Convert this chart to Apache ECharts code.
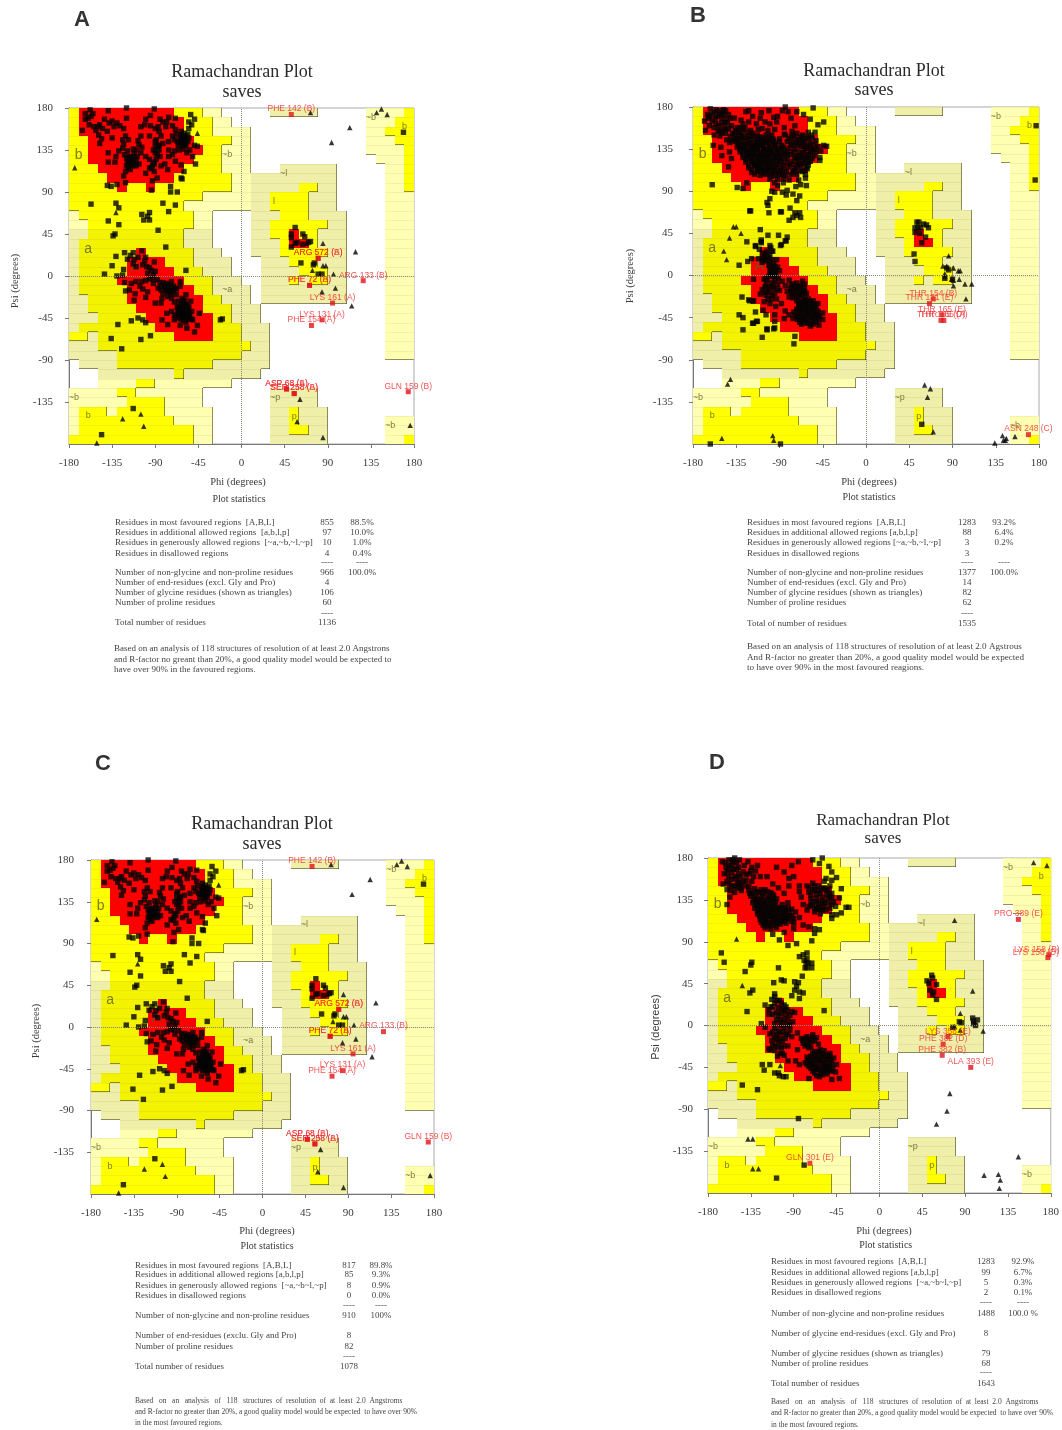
<!DOCTYPE html>
<html><head><meta charset="utf-8">
<style>html,body{margin:0;padding:0;background:#fff}#c{width:1062px;height:1430px;filter:blur(0.4px)}</style>
<script src="https://cdn.jsdelivr.net/npm/echarts@6/dist/echarts.min.js"></script>
</head><body><div id="c"></div>
<script>
// ---------- shared Ramachandran region map: one run-length row per 10 degrees of psi, top to bottom ----------
const regionRows = [
'Y1R10Y3L2W5T5W5L4Y1','Y1R11Y3L2W14L3Y2','Y1R11Y3L4W12L2Y3','Y2R11Y4L2W12L3Y2','Y2R12Y2L3W12L4Y1','Y2R11Y3L3W13L3Y1',
'Y3R9Y4L3W3T6W5L2Y1','Y4R7Y6L2T9W5L2Y1','Y5R1Y2R1Y8L2T5Y2T2W5L2Y1','Y14L5T2Y4T3W5L3','Y12L7T2Y4T3W5L3','L1Y12L2W4T3Y3T4W4L3',
'L2Y11L2W4T2Y6T2W4L3','T2D10T3W4T2Y2R1Y2T3W4L3','T1D11T3W4T3Y1R2Y1T3W4L3','T1D6R1D5T3W3T3Y5T2W4L3','T1D5R4D3T4W3T3Y3T3W4L3','T1D5R5D3T3W3T4Y3T2W4L3',
'T1D4R7D3T3W2T3Y1T1Y2T2W4L3','T1D5R7D2T4W1T9W4L3','T2D4R8D2T3W1T9W4L3','T2D5R7D3T3W13L3','T3D5R7D2T3W13L3','T1D8R6D3T3W12L3',
'Y2T1D8R4D3T3W12L3','T3D15Y1T2W12L3','T5D13T3W12L3','W1T4D10T6W15','W3T8D1T8W16','W3L4Y2L8W19',
'L5Y2L7W7T5W10','L6Y4L4W7T5W10','L1Y3L1Y5L5W6T2Y1T3W9','L1Y10L4W6T2Y1T3W6L3','L1Y12L2W6T2Y2T2W6L3','Y13L2W6T6W6L2Y1'
];
const regionFill = {R:'#ff0000',Y:'#ffff00',D:'#f3f300',L:'#ffffb2',T:'#efefaa'};
const regionRank = {W:0,L:1,T:1,Y:2,D:2,R:3};

const tagsLarge = [['b',-170,130],['a',-160,29],['A',-111,10]];
const tagsSmall = [['~b',-15,130],['~l',44,110],['l',34,80],['~a',-15,-15],['~b',-175,-130],['b',-160,-150],['~p',35,-130],['p',55,-151],['~b',155,-160],['~b',135,170],['b',170,160]];

// ---------- panel A residues ----------
const squaresA = [
[-158,178],[-163,174],[-160,169],[-163,168],[-157,171],[-139,177],[-120,180],[-91,179],[-95,172],[-85,168],[-120,169],[-143,168],[-138,164],[-133,160],[-127,161],[-123,158],[-159,162],[-154,160],[-166,156],[-152,156],[-140,155],[-149,151],[-146,147],[-148,142],[-135,148],[-121,150],[-124,146],[-105,150],[-96,150],[-101,162],[-95,161],[-87,160],[-82,165],[-79,160],[-72,161],[-69,169],[-69,157],[-62,150],[-58,146],[-63,146],[-67,144],[-60,141],[-63,151],[-55,158],[-52,162],[-53,173],[-49,140],[-46,139],[-54,135],[-57,132],[-51,128],[-48,120],[-60,112],[-63,105],[-62,104],[-76,144],[-89,146],[-90,139],[-86,135],[-88,130],[-89,125],[-96,125],[-76,135],[-70,134],[-65,135],[-60,136],[-107,141],[-110,135],[-105,132],[-109,128],[-114,126],[-123,141],[-124,137],[-119,134],[-128,134],[-131,128],[-139,132],[-139,122],[-132,122],[-119,123],[-117,119],[-114,118],[-116,114],[-121,112],[-123,107],[-107,120],[-96,116],[-93,118],[-91,112],[-100,110],[-93,102],[-94,92],[-88,105],[-84,118],[-77,114],[-69,123],[-63,119],[-76,128],[-130,98],[-121,100],[-140,97],[-136,96],[-74,96],[-74,90],[-67,90],[-82,78],[-69,76],[-76,69],[-157,77],[-131,78],[-128,73],[-139,59],[-128,55],[-104,66],[-96,68],[-98,64],[-102,60],[-96,60],
[-64,148],[-60,153],[-58,150],[-55,148],[-62,143],[-66,140],[-58,140],[-72,130],[-85,128],[-80,120],[-117,128],[-113,122],[-110,118],[-112,131],[-122,130],[-118,116],[-120,118],[-90,132],[-92,122],[-100,128],[-82,142],[-90,158],[-135,166],[-130,164],[-145,158],[-150,160],[-155,174],[-148,162],[-108,145],[-118,146],[-105,160],[-100,168],[-76,170],[-78,165],[-84,150],[-86,155],[-70,146],[-72,150],[-68,152],[-55,165],[-49,168],
[-61,147],[-59,143],[-63,155],[-56,152],[-112,128],[-115,122],[-117,125],[-94,115],[-91,120],[-113,136],[-104,138],[-88,135],[-87,140],[-90,144],
[-79,31],[-122,25],[-113,25],[-104,27],[-131,21],[-119,18],[-135,11],[-143,2],[-123,7],[-124,1],[-130,0],[-122,-7],[-121,-16],[-111,-19],[-112,-26],[-100,-23],[-90,-29],[-84,-29],[-83,-24],[-58,6],[-22,-47],[-20,-46],[-115,-48],[-108,-45],[-103,-47],[-100,-50],[-129,-52],[-136,-67],[-105,-68],[-95,-64],[-83,-47],[-78,-40],[-77,-52],[-64,-53],[-57,-56],[-46,-53],[-49,-60],[-44,-40],[-51,-47],[-125,-78],[-87,49],[-132,45],[-134,43],
[-101,16],[-103,12],[-99,10],[-94,6],[-98,3],[-92,1],[-96,-3],[-100,-5],[-104,-6],[-110,-6],[-106,-11],[-103,-14],[-98,-17],[-91,15],[-78,-8],[-75,-10],[-80,-13],[-77,-17],[-84,-15],[-73,-6],[-71,-15],[-68,-20],[-64,-6],[-64,-11],[-70,-28],[-73,-24],[-66,-33],[-63,-29],[-59,-26],[-58,-20],[-57,-31],[-61,-36],[-64,-40],[-59,-42],[-56,-36],[-54,-44],[-63,-47],[-68,-45],[-73,-38],[-70,-42],[-58,-47],[-64,-35],[-61,-45],[-52,-38],[-77,-22],[-82,-19],[-87,-13],[-92,-8],[-85,-7],[-113,13],[-110,10],[-115,-8],[-117,-15],
[-60,-30],[-62,-33],[-58,-34],[-55,-33],[-60,-39],[-57,-39],[-62,-42],[-55,-42],[-60,-44],[-66,-38],[-58,-50],[-70,-47],[-80,-10],[-76,-13],[-73,-12],[-72,-18],[-68,-14],[-74,-20],[-84,-11],[-82,-7],[-88,-4],[-93,-3],[-90,5],[-96,9],[-100,20],[-108,20],[-112,18],[-116,22],[-62,-24],[-66,-27],[-53,-27],[-67,-41],[-52,-46],
[-60,-36],[-63,-38],[-57,-45],[-59,-33],[-55,-39],[-65,-41],[-61,-27],[-58,-40],[-75,-16],[-79,-12],[-70,-13],[-63,-44],[-67,-34],
[-60,149],[-65,143],[-56,144],[-62,139],[-114,122],[-118,120],[-112,120],[-116,127],[-120,126],[-110,124],[-86,140],[-92,135],[-60,-41],[-63,-41],[-57,-42],[-59,-37],[-62,-36],[-56,-46],[-60,-47],[-65,-37],[-58,-31],[-77,-13],[-74,-15],[-71,-11],[-78,-15],
[52,45],[52,41],[56,35],[64,45],[66,42],[70,36],[72,37],[58,36],[52,31],[64,34],[56,52],[62,14],[75,12],[76,14],[80,2],[84,2],[-113,-142],[-146,-170],[169,154]
];
const trianglesA = [[-174,116],[-46,153],[-131,68],[72,175],[146,179],[141,175],[152,173],[113,159],[94,143],[85,35],[119,26],[68,35],[74,6],[98,-13],[84,-17],[115,-32],[96,2],[85,11],[88,11],[61,-132],[58,-156],[85,-173],[176,-160],[-124,-153],[-105,-148],[-102,-161],[-151,-179]];
const flaggedA = [[52,173,'PHE 142 (B)'],[80,19,'ARG 572 (A)'],[80,19,'ARG 572 (B)'],[71,-10,'PHE 72 (A)'],[71,-10,'PHE 72 (B)'],[127,-5,'ARG 133 (B)'],[95,-29,'LYS 161 (A)'],[84,-47,'LYS 131 (A)'],[73,-53,'PHE 154 (A)'],[47,-121,'ASP 68 (A)'],[47,-121,'ASP 68 (B)'],[55,-126,'SER 258 (A)'],[55,-126,'SER 258 (B)'],[174,-124,'GLN 159 (B)']];

// ---------- panel B residues ----------
const squaresB = [
[-160,97],[177,160],[176,102],[-134,94],[-128,93],[-120,69],[-89,68],[-110,49],[-102,43],[-91,43],[-82,41],[-84,37],[-124,36],[-115,31],[-109,38],[-109,35],[-89,32],[-99,30],[-97,26],[-132,11],[-123,15],[-129,-23],[-122,-26],[-118,-27],[-115,-39],[-132,-42],[-128,-45],[-114,-49],[-118,-51],[-128,-58],[-103,-58],[-96,-57],[-108,-66],[-74,-65],[-75,-73],[-162,-180],[-89,-180],[58,-159],
[53,57],[55,57],[60,55],[63,54],[65,51],[51,51],[54,51],[57,51],[51,46],[56,45],[62,41],[58,35],[50,23],[51,15],[84,8],[86,6],[82,-3],[90,-4],
[-124,99],[-121,69],[-88,68],[-98,90],[-100,82],[-103,78],[-102,75],[-101,67],[-87,89],[-83,86],[-82,91],[-76,87],[-73,95],[-68,97],[-62,96],[-63,104],[-70,102],[-69,85],[-72,80],[-79,72],[-74,67],[-76,62],[-80,59],[-69,67],[-68,62],[-72,64],[-95,89],[-92,96],[-86,99],[-95,99],
[-55,179],[-84,180],[-87,176],[-81,175],[-72,175],[-65,172],[-58,167],[-50,161],[-44,164],[-53,153],[-44,139],[-41,138],[-47,133],[-48,126],[-48,123],[-53,135],[-60,121],[-61,114],[-63,108],[-148,177],[-122,176],[-109,174],[-101,176],[-96,169],[-93,164],[-105,164],[-112,156],[-95,156],[-85,151],[-77,154],[-74,160],[-167,155],[-159,139],[-151,137],[-142,132],[-150,128],[-143,116],[-140,125],
[-168,165],[-165,172],[-162,178],[-158,175],[-155,170],[-160,165],[-163,160],[-156,162],[-152,176],[-150,168],[-147,163],[-143,172],[-148,157],[-154,155],[-158,150],[-152,149],[-146,152],[-140,160],[-137,168],[-134,158],[-130,166],[-141,148],[-136,150],[-130,152],[-126,158],[-122,164],[-118,170],[-114,162],[-120,155],[-113,150],[-108,157],[-102,155],[-125,175],[-110,168],[-100,162],[-92,170],[-85,158],[-78,168],
[-163,170],[-157,167],[-150,172],[-153,160],[-145,167],[-150,152],[-143,157],[-136,155],[-131,158],[-139,144],[-145,145],[-128,162],
[-136,143],[-131,146],[-125,147],[-119,149],[-113,145],[-107,147],[-101,149],[-134,137],[-128,139],[-122,141],[-116,139],[-110,141],[-104,142],[-98,143],[-131,132],[-125,133],[-119,135],[-113,134],[-107,136],[-101,135],[-95,137],[-128,126],[-122,128],[-116,129],[-110,127],[-104,130],[-98,129],[-92,131],[-125,121],[-119,123],[-113,122],[-107,124],[-101,123],[-95,125],[-89,124],[-122,115],[-116,117],[-110,116],[-104,118],[-98,117],[-92,119],[-86,118],[-119,110],[-113,111],[-107,109],[-101,112],[-95,110],[-89,112],[-83,111],[-90,143],[-86,137],[-84,130],
[-133,140],[-127,143],[-121,145],[-115,142],[-109,144],[-103,145],[-97,146],[-131,135],[-125,137],[-119,138],[-113,137],[-107,139],[-101,139],[-95,141],[-128,130],[-122,131],[-116,132],[-110,130],[-104,133],[-98,133],[-92,135],[-125,124],[-119,126],[-113,128],[-107,127],[-101,126],[-95,128],[-89,128],[-122,118],[-116,120],[-110,120],[-104,121],[-98,121],[-92,122],[-119,113],[-113,114],[-107,113],[-101,115],[-95,114],[-89,115],[-116,108],[-110,107],[-104,108],[-98,106],[-90,108],[-84,107],
[-134,146],[-128,148],[-122,149],[-116,147],[-110,148],[-104,150],[-98,150],[-132,142],[-126,140],[-120,142],[-114,140],[-108,142],[-102,143],[-96,144],[-90,146],[-130,137],[-124,135],[-118,137],[-112,139],[-106,134],[-100,137],[-94,139],[-88,136],[-127,133],[-121,130],[-115,136],[-109,132],[-103,128],[-97,131],[-91,133],[-85,134],[-124,128],[-118,132],[-112,125],[-106,129],[-100,131],[-94,126],[-88,131],[-82,129],[-121,125],[-115,126],[-109,123],[-103,125],[-97,123],[-91,126],[-85,125],[-118,121],[-112,119],[-106,119],[-100,119],[-94,117],[-88,121],[-82,120],[-115,118],[-109,114],[-103,113],[-97,112],[-91,111],[-85,113],[-112,112],[-106,111],[-100,108],[-94,107],[-87,108],
[-160,172],[-156,177],[-153,172],[-148,172],[-146,176],[-164,168],[-158,158],[-150,163],[-144,163],[-141,168],[-152,154],[-146,156],[-139,152],[-133,153],[-128,156],[-142,142],[-136,147],[-130,149],[-124,153],[-118,152],
[-84,150],[-78,148],[-72,152],[-66,150],[-60,153],[-56,147],[-82,143],[-76,142],[-70,145],[-64,143],[-58,141],[-52,144],[-80,136],[-74,135],[-68,138],[-62,136],[-56,134],[-50,138],[-78,129],[-72,128],[-66,131],[-60,129],[-54,128],[-76,122],[-70,123],[-64,124],[-58,122],[-80,116],[-74,115],[-68,117],[-62,116],[-78,108],[-72,108],[-66,111],[-86,104],[-80,102],[-92,103],[-100,103],
[-70,140],[-64,138],[-58,136],[-75,139],[-66,126],[-72,125],[-60,125],[-70,119],[-64,120],[-75,112],[-82,125],[-82,132],[-88,139],[-60,146],[-66,146],[-74,147],
[-80,146],[-76,150],[-68,148],[-62,148],[-57,150],[-78,140],[-72,142],[-66,142],[-60,139],[-54,140],[-76,132],[-70,132],[-64,133],[-58,131],[-52,132],[-74,126],[-68,127],[-62,127],[-56,125],[-78,119],[-72,118],[-66,120],[-60,118],[-76,110],[-70,112],[-64,112],
[-111,28],[-108,24],[-106,20],[-112,18],[-103,26],[-100,22],[-104,16],[-98,17],[-108,14],[-101,11],[-96,13],[-93,17],[-97,8],[-92,9],[-99,5],[-94,3],[-90,5],[-96,-1],[-101,-1],[-91,-3],[-106,-4],[-104,-10],[-98,-8],[-92,-9],[-87,-6],[-108,-15],[-102,-15],[-96,-14],[-110,-20],[-104,-21],[-98,-21],[-90,-16],[-93,-25],[-106,-28],[-100,-30],[-94,-33],[-88,-30],
[-103,20],[-108,18],[-100,14],[-95,10],[-98,0],[-103,-5],[-95,-5],[-100,-12],[-105,-18],[-98,-25],
[-105,23],[-101,19],[-106,16],[-100,8],[-95,5],[-94,-1],[-100,2],[-104,-3],[-97,-11],[-92,-14],[-101,-18],[-95,-19],[-102,-25],[-105,-12],
[-80,-5],[-84,-11],[-78,-11],[-72,-8],[-66,-6],[-82,-17],[-76,-16],[-70,-15],[-64,-13],[-80,-23],[-74,-22],[-68,-21],[-62,-19],[-72,-27],
[-78,-18],[-74,-13],[-68,-11],[-72,-18],[-66,-18],[-76,-24],
[-76,-9],[-70,-12],[-64,-9],[-78,-14],[-72,-12],[-66,-16],[-76,-20],[-70,-19],[-64,-17],[-70,-24],[-64,-23],
[-70,-30],[-65,-28],[-60,-25],[-55,-27],[-72,-36],[-66,-34],[-60,-32],[-54,-33],[-50,-30],[-74,-42],[-68,-41],[-62,-39],[-56,-40],[-50,-38],[-71,-47],[-65,-46],[-59,-45],[-53,-46],[-48,-44],[-67,-52],[-61,-51],[-55,-52],[-49,-53],[-45,-40],[-76,-46],[-80,-42],[-85,-46],[-84,-38],
[-68,-37],[-63,-36],[-57,-36],[-52,-35],[-70,-44],[-64,-43],[-59,-41],[-53,-42],[-68,-48],[-62,-48],[-56,-48],[-50,-47],[-63,-30],[-57,-30],[-68,-32],[-58,-54],[-64,-26],
[-70,-33],[-64,-32],[-58,-28],[-53,-30],[-70,-39],[-65,-38],[-60,-36],[-55,-37],[-51,-41],[-72,-44],[-66,-44],[-61,-42],[-56,-44],[-50,-43],[-69,-50],[-64,-50],[-58,-51],[-52,-50],[-62,-28],[-67,-28],[-58,-33],[-75,-39],
[-45,-47],[-95,-56],[-103,-57],[-117,-51],[-113,-49],[-121,-27],[-117,-27],[-104,-42],[-107,-37],[-95,-42],[-95,-49],[-117,-4],[-119,18],[-115,32],[-109,36],[-98,26],[-100,32],[-88,33],[-83,37]
];
const trianglesB = [[-138,52],[-135,52],[-130,45],[-142,40],[-148,26],[-145,17],[-141,-111],[-144,-116],[-150,-174],[-97,-171],[-96,-176],[61,-117],[67,-121],[64,-130],[70,-167],[86,21],[80,10],[84,10],[91,8],[96,5],[98,5],[82,-1],[89,-4],[91,-5],[97,-4],[91,-11],[103,-9],[110,-9],[104,-25],[134,-179],[142,-171],[143,-176],[146,-174],[145,-176],[155,-172],[82,2]];
const flaggedB = [[70,-25,'THR 154 (B)'],[66,-30,'THR 131 (E)'],[79,-42,'THR 165 (E)'],[78,-48,'THR 165 (D)'],[81,-48,'THR 165 (A)'],[169,-170,'ASN 248 (C)']];

// ---------- panel C residues (the same structure read again: the marks coincide with panel A) ----------
const squaresC = squaresA;
const trianglesC = trianglesA;
const flaggedC = flaggedA;

// ---------- panel D residues ----------
const squaresD = [
[-166,78],[-163,68],[-134,68],[-135,65],[-141,58],[-106,62],[-133,38],[-136,35],[-139,15],[-160,130],[-144,-64],[-128,-69],[-85,-100],[-108,-164],[-79,-150],[-58,16],[-111,46],[-103,49],[-100,48],[-89,47],[-85,46],[-87,42],[-89,38],[-92,32],[-84,36],[-80,35],[-84,29],[-110,34],[-110,31],[-81,53],
[-84,74],[-80,76],[-76,78],[-76,72],[-79,70],[-77,67],[-75,67],[-71,67],[-78,62],[-76,62],[-71,62],[-96,86],[-105,92],[-87,88],[-71,91],[-68,99],[-63,103],
[-32,127],[-35,127],[-42,137],[-40,147],[-45,159],[-53,171],[-50,165],[-56,158],[-50,156],[-60,180],[-70,178],[-63,174],[-40,121],[-45,119],[-50,119],[-50,115],
[55,54],[50,48],[52,45],[56,51],[60,44],[53,38],[56,33],[60,28],[57,36],[84,4],[86,3],[77,-2],[98,8],[99,2],[101,0],[103,6],[99,5],
[-165,176],[-161,170],[-158,178],[-155,172],[-152,180],[-150,175],[-163,163],[-158,160],[-155,165],[-150,168],[-146,160],[-142,172],[-138,176],[-134,170],[-130,166],[-137,163],[-143,155],[-149,153],[-155,150],[-160,146],[-157,138],[-152,143],[-146,148],[-140,150],[-134,155],[-128,172],[-125,160],[-160,155],[-164,152],
[-153,176],[-148,170],[-158,168],[-152,160],[-147,154],[-140,162],[-135,166],[-152,150],[-145,145],[-155,157],
[-162,175],[-158,172],[-154,178],[-147,178],[-160,165],[-153,168],[-148,163],[-143,165],[-150,158],[-145,151],[-140,156],[-137,149],[-156,145],[-150,148],[-132,160],[-158,152],
[-137,145],[-131,147],[-126,143],[-120,146],[-114,143],[-135,139],[-129,137],[-123,139],[-117,137],[-111,139],[-133,132],[-127,131],[-121,133],[-115,131],[-109,133],[-131,126],[-125,125],[-119,127],[-113,125],[-107,127],[-128,120],[-122,119],[-116,121],[-110,119],[-104,121],[-125,114],[-119,113],[-113,115],[-107,113],[-101,115],[-122,108],[-116,107],[-110,108],[-104,109],[-98,110],[-95,118],[-92,125],[-98,124],[-102,130],[-96,132],[-90,115],[-84,116],[-88,122],
[-134,142],[-128,144],[-122,142],[-116,140],[-130,135],[-124,136],[-118,135],[-112,135],[-128,129],[-122,130],[-116,128],[-110,129],[-126,123],[-120,122],[-114,123],[-108,122],[-123,117],[-117,117],[-111,117],[-105,117],[-120,111],[-114,110],[-108,111],[-102,112],[-100,120],[-94,122],[-98,114],[-92,112],[-100,126],
[-136,142],[-130,142],[-124,146],[-118,144],[-112,141],[-132,136],[-126,134],[-120,130],[-114,134],[-108,136],[-130,130],[-124,128],[-118,124],[-112,128],[-106,124],[-128,124],[-122,123],[-116,118],[-110,124],[-104,126],[-126,118],[-120,116],[-114,118],[-108,116],[-102,118],[-124,111],[-118,110],[-112,112],[-106,110],[-100,112],[-120,105],[-114,104],[-108,105],[-104,113],[-100,123],[-96,127],[-92,118],[-96,115],[-90,110],[-102,125],[-98,118],
[-118,160],[-112,152],[-106,148],[-100,142],[-95,150],[-108,170],[-100,165],[-92,172],[-85,176],[-90,160],[-84,150],[-95,158],
[-76,150],[-70,153],[-64,150],[-58,155],[-52,150],[-74,143],[-68,145],[-62,142],[-56,146],[-50,142],[-72,136],[-66,137],[-60,134],[-54,137],[-48,133],[-70,129],[-64,127],[-58,128],[-52,126],[-46,128],[-68,122],[-62,120],[-76,124],[-80,130],[-82,138],[-84,144],[-80,108],[-74,106],[-68,104],[-90,104],[-100,100],[-112,98],
[-70,146],[-64,145],[-58,148],[-55,141],[-66,133],[-60,131],[-54,132],[-72,130],[-66,125],[-60,124],[-50,137],
[-74,148],[-68,150],[-60,147],[-54,145],[-72,140],[-66,141],[-60,138],[-52,139],[-70,133],[-64,131],[-58,132],[-50,130],[-68,126],[-62,125],[-56,124],[-74,128],
[-120,22],[-116,17],[-113,28],[-110,24],[-106,19],[-112,12],[-105,27],[-100,22],[-103,13],[-97,17],[-108,6],[-100,7],[-94,11],[-89,14],[-104,0],[-97,1],[-91,4],[-110,-3],[-115,-9],[-108,-10],[-101,-7],[-94,-5],[-120,-2],[-113,-16],[-106,-18],[-99,-14],[-92,-12],[-116,-25],[-110,-27],[-103,-24],[-96,-22],[-107,-33],[-100,-32],[-96,-38],[-86,-26],
[-112,20],[-108,14],[-102,18],[-98,12],[-104,6],[-96,6],[-100,-3],[-106,-6],[-98,-10],[-110,-13],[-104,-14],[-110,-22],[-104,-30],
[-114,20],[-108,27],[-103,24],[-98,20],[-116,12],[-100,16],[-106,11],[-92,15],[-110,2],[-102,3],[-94,0],[-112,-7],[-104,-8],[-96,-9],[-108,-15],[-102,-17],[-112,-21],[-106,-23],[-100,-22],[-102,-30],
[-86,-8],[-82,-14],[-76,-12],[-70,-10],[-80,-19],[-74,-18],[-68,-16],[-72,-23],[-64,-20],[-78,-14],[-72,-15],[-76,-21],[-66,-13],
[-80,-16],[-74,-15],[-78,-22],[-70,-17],[-74,-24],[-70,-13],
[-76,-34],[-70,-30],[-64,-28],[-58,-27],[-52,-30],[-78,-40],[-72,-38],[-66,-35],[-60,-34],[-54,-36],[-48,-35],[-74,-44],[-68,-42],[-62,-40],[-56,-43],[-50,-41],[-70,-49],[-64,-47],[-58,-48],[-52,-48],[-66,-54],[-60,-53],[-55,-52],[-46,-50],[-84,-42],[-88,-38],
[-72,-33],[-66,-31],[-60,-30],[-55,-32],[-75,-38],[-69,-37],[-63,-37],[-57,-38],[-51,-37],[-71,-42],[-65,-44],[-59,-44],[-53,-44],[-67,-47],[-61,-50],[-55,-48],[-49,-46],[-63,-55],
[-74,-36],[-68,-33],[-62,-32],[-57,-33],[-52,-33],[-76,-42],[-70,-40],[-64,-38],[-58,-40],[-52,-41],[-72,-46],[-66,-46],[-60,-46],[-54,-46],[-68,-51],[-62,-52],[-56,-50],[-50,-49],[-62,-26],[-68,-28],
[-110,-51],[-106,-51],[-105,-54],[-101,-55],[-98,-55],[-123,-42],[-115,-42],[-121,-48],[-74,-57],[-50,-58],[-42,-57],[-45,-42],[-124,2],[-115,-26]
];
const trianglesD = [[162,175],[176,172],[79,113],[-150,93],[-144,43],[98,37],[85,13],[85,-5],[109,-6],[74,-73],[71,-92],[60,-106],[-138,-122],[-133,-122],[-133,-154],[-127,-154],[146,-141],[110,-161],[125,-160],[127,-166],[126,-175],[-104,-43],[79,-1]];
const flaggedD = [[146,114,'PRO 389 (E)'],[178,76,'LYS 158 (B)'],[177,73,'LYS 158 (D)'],[72,-12,'LYS 358 (E)'],[67,-20,'PHE 382 (D)'],[66,-32,'PHE 382 (B)'],[96,-45,'ALA 393 (E)'],[-73,-148,'GLN 301 (E)']];
const labelNudge = {'LYS 158 (B)':[-12,2],'LYS 158 (D)':[-12,2]};

// ---------- statistics text ----------
const statsA = [['Residues in most favoured regions  [A,B,L]','855','88.5%'],['Residues in additional allowed regions  [a,b,l,p]','97','10.0%'],['Residues in generously allowed regions  [~a,~b,~l,~p]','10','1.0%'],['Residues in disallowed regions','4','0.4%'],['','----','----'],['Number of non-glycine and non-proline residues','966','100.0%'],['Number of end-residues (excl. Gly and Pro)','4',''],['Number of glycine residues (shown as triangles)','106',''],['Number of proline residues','60',''],['','----',''],['Total number of residues','1136','']];
const statsB = [['Residues in most favoured regions  [A,B,L]','1283','93.2%'],['Residues in additional allowed regions [a,b,l,p]','88','6.4%'],['Residues in generously allowed regions [~a,~b,~l,~p]','3','0.2%'],['Residues in disallowed regions','3',''],['','----','----'],['Number of non-glycine and non-proline residues','1377','100.0%'],['Number of end-residues (excl. Gly and Pro)','14',''],['Number of glycine residues (shown as triangles)','82',''],['Number of proline residues','62',''],['','----',''],['Total of number of residues','1535','']];
const statsC = [['Residues in most favoured regions  [A,B,L]','817','89.8%'],['Residues in additional allowed regions [a,b,l,p]','85','9.3%'],['Residues in generously allowed regions  [~a,~b~l,~p]','8','0.9%'],['Residues in disallowed regions','0','0.0%'],['','----','----'],['Number of non-glycine and non-proline residues','910','100%'],['Number of end-residues (exclu. Gly and Pro)','8',''],['Number of proline residues','82',''],['','----',''],['Total number of residues','1078','']];
const statsD = [['Residues in most favoured regions  [A,B,L]','1283','92.9%'],['Residues in additional allowed regions [a,b,l,p]','99','6.7%'],['Residues in generously allowed regions  [~a,~b~l,~p]','5','0.3%'],['Residues in disallowed regions','2','0.1%'],['','----','----'],['Number of non-glycine and non-proline residues','1488','100.0 %'],['Number of glycine end-residues (excl. Gly and Pro)','8',''],['Number of glycine residues (shown as triangles)','79',''],['Number of proline residues','68',''],['','----',''],['Total number of residues','1643','']];
const noteA = ['Based on an analysis of 118 structures of resolution of at least 2.0 Angstrons','and R-factor no greant than 20%, a good quality model would be expected to','have over 90% in the favoured regions.'];
const noteB = ['Based on an analysis of 118 structures of resolution of at least 2.0 Agstrous','And R-factor no greater than 20%, a good quality model would be expected','to have over 90% in the most favoured reagions.'];
const noteC = ['Based   on   an   analysis   of   118   structures  of  resolution  of  at  least  2.0  Angstroms','and R-factor no greater than 20%, a good quality model would be expected  to have over 90%','in the most favoured regions.'];
const noteD = noteC;

// ---------- layout (pixels) ----------
const panels = [
 {name:'A',squares:squaresA,tri:trianglesA,flag:flaggedA,stats:statsA,note:noteA,yGap:16,
  grid:[69,108,345,336],letter:[82,20],title:[242,72,92,18],psi:[15,281,'Liberation Serif',10.5],phi:[238,482],plot:[239,499],
  left:115,c2:327,c3:362,rows:[522.7,532.7,542.7,553.3,563,573,583,593,603,614,623],noteY:[649,660,670],statSize:9.15,noteSize:9},
 {name:'B',squares:squaresB,tri:trianglesB,flag:flaggedB,stats:statsB,note:noteB,yGap:20,
  grid:[693,107,346,337],letter:[698,16],title:[874,71,90,18],psi:[630,276,'Liberation Serif',10.5],phi:[869,482.7],plot:[869,497.7],
  left:747,c2:967,c3:1004,rows:[522.7,532.7,542.7,553.3,563,573,583,593,603,614,624],noteY:[647,657.7,667.7],statSize:9.05,noteSize:9.15},
 {name:'C',squares:squaresC,tri:trianglesC,flag:flaggedC,stats:statsC,note:noteC,yGap:17,
  grid:[91,860,343,334],letter:[103,764],title:[262,824,844,18],psi:[36,1031,'Liberation Serif',10.5],phi:[267,1231],plot:[267,1246.7],
  left:135,c2:349,c3:381,rows:[1265.7,1275,1286,1296,1305.7,1316,1336,1346.7,1356.7,1366.7],noteY:[1400.7,1411.7,1423],statSize:8.95,noteSize:7.5},
 {name:'D',squares:squaresD,tri:trianglesD,flag:flaggedD,stats:statsD,note:noteD,yGap:15,
  grid:[708,858,344,335],letter:[717,763],title:[883,821,839,17],psi:[656,1027,'Liberation Sans',11],phi:[884,1231.7],plot:[885.7,1245.7],
  left:771,c2:986,c3:1023,rows:[1261.7,1272.3,1282.3,1293,1303,1313.7,1333.3,1353.3,1363.3,1373,1384],noteY:[1401.7,1413.3,1425],statSize:8.9,noteSize:7.5}
];

// ---------- build the region cells from the run-length rows ----------
const cells = [];
const matrix = regionRows.map(r => {
  let s=''; r.replace(/([A-Z])(\d+)/g,(m,c,n)=>{s+=c.repeat(+n);return m;}); return s;
});
matrix.forEach((row,j)=>{ for(let i=0;i<row.length;i++){ if(row[i]!=='W') cells.push([-180+i*10,170-j*10,i,j]); } });

function renderCell(params,api){
  const i=api.value(2), j=api.value(3), k=matrix[j][i];
  const p0=api.coord([api.value(0),api.value(1)+10]), p1=api.coord([api.value(0)+10,api.value(1)]);
  const x0=Math.round(p0[0]),y0=Math.round(p0[1]),x1=Math.round(p1[0]),y1=Math.round(p1[1]);
  const kids=[{type:'rect',shape:{x:x0,y:y0,width:x1-x0,height:y1-y0},style:{fill:regionFill[k]},silent:true}];
  if(k!=='R') kids.push({type:'line',shape:{x1:x0,y1:y0+.5,x2:x1,y2:y0+.5},style:{stroke:'rgba(110,110,60,0.09)',lineWidth:1},silent:true});
  const below=j<35?matrix[j+1][i]:k, right=i<35?matrix[j][i+1]:k;
  const edge=k==='R'?'rgba(90,40,0,0.2)':'rgba(70,70,35,0.6)';
  if(regionRank[k]>regionRank[below]) kids.push({type:'line',shape:{x1:x0,y1:y1-.5,x2:x1,y2:y1-.5},style:{stroke:edge,lineWidth:1},silent:true});
  if(regionRank[k]>regionRank[right]) kids.push({type:'line',shape:{x1:x1-.5,y1:y0,x2:x1-.5,y2:y1},style:{stroke:edge,lineWidth:1},silent:true});
  return {type:'group',children:kids};
}

const SERIF='Liberation Serif', SANS='Liberation Sans';
const grids=[],xAxes=[],yAxes=[],series=[],graphics=[];
function text(x,y,t,size,o={}){
  graphics.push({type:'text',x,y,silent:true,rotation:o.rot||0,z:20,style:{text:t,fontSize:size,fontFamily:o.font||SERIF,fontWeight:o.weight||'normal',fill:o.fill||'#444',align:o.align||'left',verticalAlign:'middle'}});
}
panels.forEach((p,idx)=>{
  const [l,t,w,h]=p.grid;
  grids.push({left:l,top:t,width:w,height:h,show:true,borderColor:'#a8a8a8',borderWidth:1,backgroundColor:'#fff'});
  const axisBase={type:'value',min:-180,max:180,interval:45,gridIndex:idx,splitLine:{show:false},
    axisLine:{show:true,onZero:false,lineStyle:{color:'#777',width:1}},axisTick:{show:true,length:4,lineStyle:{color:'#777'}},
    axisLabel:{fontFamily:SERIF,fontSize:11,color:'#3a3a3a'}};
  xAxes.push({...axisBase,position:'bottom',axisLabel:{...axisBase.axisLabel,margin:14,showMinLabel:true,showMaxLabel:true}});
  yAxes.push({...axisBase,position:'left',axisLabel:{...axisBase.axisLabel,margin:p.yGap,showMinLabel:false,showMaxLabel:true}});
  const ax={xAxisIndex:idx,yAxisIndex:idx,animation:false,silent:true};
  series.push({type:'custom',...ax,z:1,clip:true,renderItem:renderCell,data:cells,encode:{x:0,y:1}});
  const tag=(data,size,z)=>({type:'scatter',...ax,z,symbolSize:0,data:data.map(d=>[d[1],d[2],d[0]]),
    label:{show:true,position:'inside',formatter:v=>v.value[2],fontFamily:SANS,fontSize:size,color:'#5b5b28'}});
  series.push(tag(tagsLarge,14,2));
  series.push(tag(tagsSmall,9,2));
  series.push({type:'scatter',...ax,z:3,clip:false,symbol:'rect',symbolSize:5.4,itemStyle:{color:'#050505'},data:p.squares,
    markLine:{silent:true,symbol:'none',animation:false,label:{show:false},lineStyle:{color:'#8a8a7a',type:'dotted',width:1},data:[{xAxis:0},{yAxis:0}]}});
  series.push({type:'scatter',...ax,z:3,clip:false,symbol:'triangle',symbolSize:5.4,itemStyle:{color:'#050505'},data:p.tri});
  series.push({type:'scatter',...ax,z:4,clip:false,symbol:'rect',symbolSize:5,itemStyle:{color:'#e0141c'},
    data:p.flag,
    label:{show:true,position:'top',distance:0,formatter:v=>v.value[2],fontFamily:SANS,fontSize:8.5,color:'#f02828'},
    labelLayout:q=>{const n=labelNudge[q.text]||[0,1.5];return {dx:n[0],dy:n[1],hideOverlap:false};}});
  // text
  text(p.letter[0],p.letter[1],p.name,22,{font:SANS,weight:'bold',align:'center',fill:'#333'});
  text(p.title[0],p.title[1],'Ramachandran Plot',p.title[3],{align:'center',fill:'#2a2a2a'});
  text(p.title[0],p.title[2],'saves',p.title[3],{align:'center',fill:'#2a2a2a'});
  text(p.psi[0],p.psi[1],'Psi (degrees)',p.psi[3],{font:p.psi[2],align:'center',rot:Math.PI/2,fill:'#3a3a3a'});
  text(p.phi[0],p.phi[1],'Phi (degrees)',10.5,{align:'center',fill:'#3a3a3a'});
  text(p.plot[0],p.plot[1],'Plot statistics',10,{align:'center',fill:'#3a3a3a'});
  p.stats.forEach((r,i)=>{
    const y=p.rows[i];
    if(r[0]) text(p.left,y,r[0],p.statSize);
    if(r[1]) text(p.c2,y,r[1],p.statSize,{align:'center'});
    if(r[2]) text(p.c3,y,r[2],p.statSize,{align:'center'});
  });
  p.note.forEach((s,i)=>text(p.left-(p.name==='A'?1:0),p.noteY[i],s,p.noteSize));
});
const chart=echarts.init(document.getElementById('c'),null,{renderer:'canvas',width:1062,height:1430});
chart.setOption({animation:false,backgroundColor:'#fff',grid:grids,xAxis:xAxes,yAxis:yAxes,series,graphic:{elements:graphics}});
</script></body></html>
